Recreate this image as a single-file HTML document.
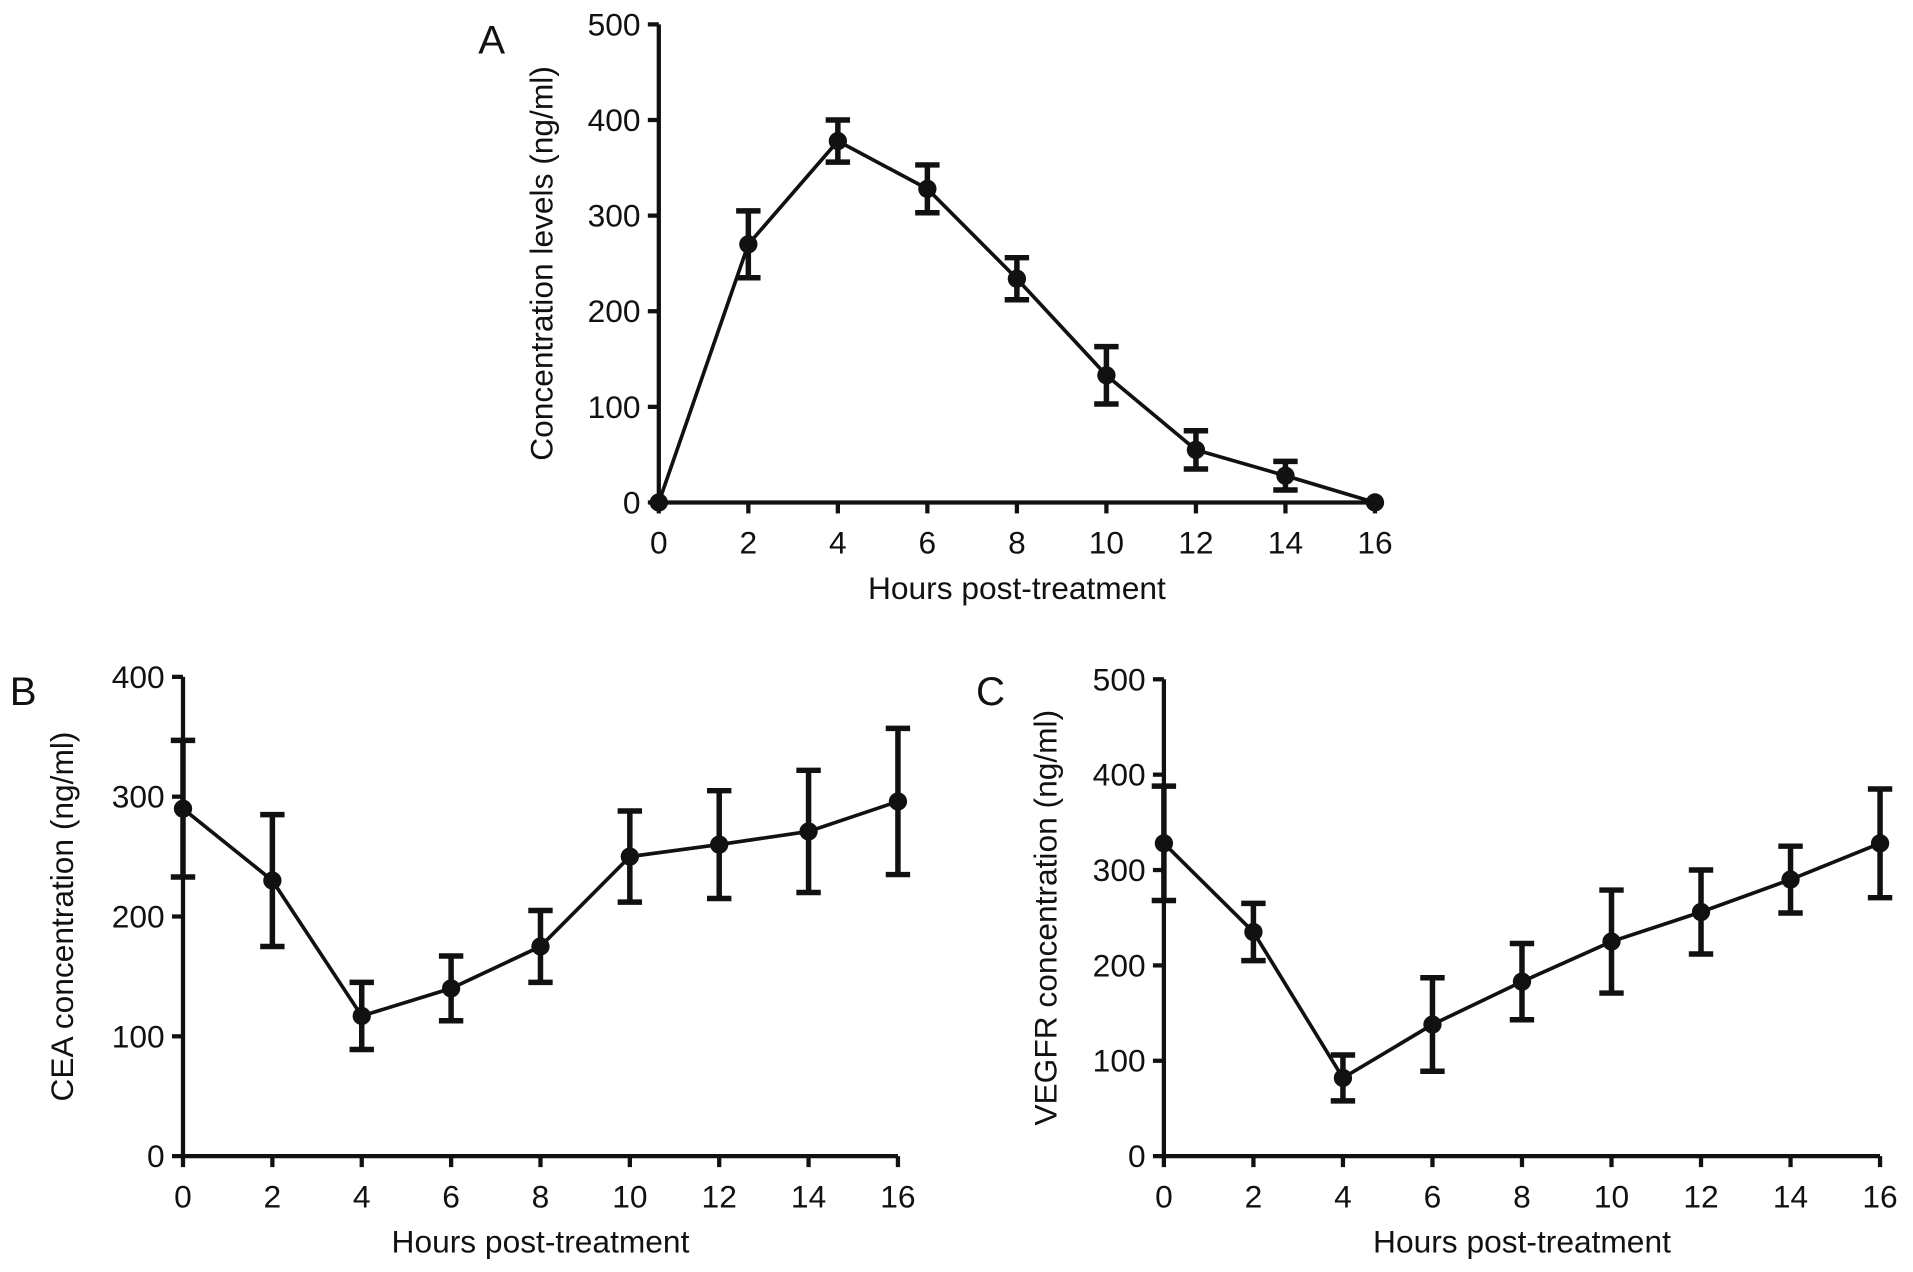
<!DOCTYPE html>
<html><head><meta charset="utf-8"><style>
html,body{margin:0;padding:0;background:#fff;}
svg{display:block;font-family:"Liberation Sans",sans-serif;}
</style></head><body>
<svg id="fig" width="1913" height="1272" viewBox="0 0 1568 1043" preserveAspectRatio="none" xmlns="http://www.w3.org/2000/svg"></svg>
<script>
const hours = [0,2,4,6,8,10,12,14,16];
const xTicks = [0,2,4,6,8,10,12,14,16];
const aMean = [0,270,378,328,234,133,55,28,0];
const aErr = [0,35,22,25,22,30,20,15,0];
const aTicks = [0,100,200,300,400,500];
const bMean = [290,230,117,140,175,250,260,271,296];
const bErr = [57,55,28,27,30,38,45,51,61];
const bTicks = [0,100,200,300,400];
const cMean = [328,235,82,138,183,225,256,290,328];
const cErr = [60,30,24,49,40,54,44,35,57];
const cTicks = [0,100,200,300,400,500];

const NS = "http://www.w3.org/2000/svg";
const svg = document.getElementById('fig');
function mk(tag, attrs, parent){
  const e = document.createElementNS(NS, tag);
  for (const k in attrs) e.setAttribute(k, attrs[k]);
  (parent||svg).appendChild(e);
  return e;
}
function panel(p){
  const g = mk('g', {});
  
  
  const sx = v => p.x0 + (v - 0) / 16 * (p.x1 - p.x0);
  const sy = v => p.y0 - v / p.ymax * (p.y0 - p.y1);
  const lbl = mk('text', {x:p.lx, y:p.ly, 'font-size':33, fill:'#111'}, g);
  lbl.textContent = p.id.toUpperCase();
  
  
  const ya = mk('line', {x1:p.x0, y1:p.y0, x2:p.x0, y2:p.y1, stroke:'#111','stroke-width':3.5}, g);
  
  
  const xa = mk('line', {x1:p.x0, y1:p.y0, x2:p.x1, y2:p.y0, stroke:'#111','stroke-width':3.5}, g);
  
  
  p.yt.forEach(v => {
    mk('line', {x1:p.x0-9, y1:sy(v), x2:p.x0, y2:sy(v), stroke:'#111','stroke-width':3.5}, g);
    const t = mk('text', {x:p.x0-15, y:sy(v)+9, 'font-size':26, 'text-anchor':'end', fill:'#111'}, g);
    t.textContent = v;
    
    
  });
  xTicks.forEach(v => {
    mk('line', {x1:sx(v), y1:p.y0, x2:sx(v), y2:p.y0+9, stroke:'#111','stroke-width':3.5}, g);
    const t = mk('text', {x:sx(v), y:p.y0+42, 'font-size':26, 'text-anchor':'middle', fill:'#111'}, g);
    t.textContent = v;
    
    
  });
  const xt = mk('text', {x:(p.x0+p.x1)/2, y:p.y0+79, 'font-size':26, 'text-anchor':'middle', fill:'#111'}, g);
  xt.textContent = 'Hours post-treatment';
  
  
  const ytx = p.tx, yty = (p.y0+p.y1)/2;
  const yt = mk('text', {x:ytx, y:yty, 'font-size':26, 'text-anchor':'middle', fill:'#111', transform:`rotate(-90 ${ytx} ${yty})`}, g);
  yt.textContent = p.title;
  
  
  const pts = hours.map((h,i) => sx(h) + ',' + sy(p.mean[i])).join(' ');
  const ln = mk('polyline', {points:pts, fill:'none', stroke:'#111', 'stroke-width':3}, g);
  
  
  hours.forEach((h,i) => {
    const e = p.err[i];
    if (e > 0) {
      const eb = mk('path', {d:`M${sx(h)},${sy(p.mean[i]-e)}V${sy(p.mean[i]+e)}M${sx(h)-10},${sy(p.mean[i]+e)}h20M${sx(h)-10},${sy(p.mean[i]-e)}h20`, stroke:'#111','stroke-width':4.5, fill:'none'}, g);
      
      
    }
    const c = mk('circle', {cx:sx(h), cy:sy(p.mean[i]), r:7.5, fill:'#111'}, g);
    
    
  });
}
panel({id:'a', x0:540, x1:1127, y0:412, y1:20, ymax:500, yt:aTicks, mean:aMean, err:aErr, lx:392, ly:44, tx:453, title:'Concentration levels (ng/ml)'});
panel({id:'b', x0:150, x1:736, y0:948, y1:555, ymax:400, yt:bTicks, mean:bMean, err:bErr, lx:8, ly:578, tx:60, title:'CEA concentration (ng/ml)'});
panel({id:'c', x0:954, x1:1541, y0:948, y1:557, ymax:500, yt:cTicks, mean:cMean, err:cErr, lx:800, ly:578, tx:866, title:'VEGFR concentration (ng/ml)'});
</script>
</body></html>
